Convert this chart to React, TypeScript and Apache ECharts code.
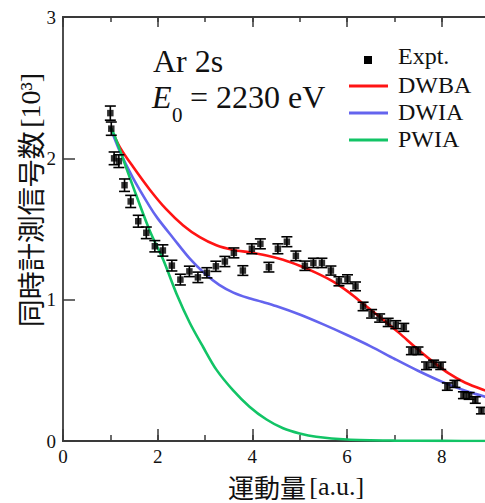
import React, { useEffect, useRef } from "react";
import * as echarts from "echarts";

// Experimental points: momentum [a.u.], counts [10^3], error
const exptX = [1.0, 1.02, 1.08, 1.18, 1.3, 1.43, 1.59, 1.76, 1.94, 2.11, 2.3, 2.48, 2.67, 2.85, 3.04, 3.23, 3.42, 3.61, 3.8, 3.99, 4.17, 4.35, 4.54, 4.73, 4.92, 5.11, 5.29, 5.47, 5.66, 5.83, 6.01, 6.18, 6.34, 6.52, 6.69, 6.87, 7.03, 7.2, 7.36, 7.5, 7.68, 7.83, 7.98, 8.12, 8.28, 8.46, 8.58, 8.71, 8.84];
const exptY = [2.32, 2.21, 2.0, 1.98, 1.81, 1.695, 1.555, 1.473, 1.378, 1.348, 1.241, 1.142, 1.2, 1.158, 1.19, 1.236, 1.27, 1.331, 1.206, 1.36, 1.395, 1.23, 1.36, 1.41, 1.31, 1.24, 1.26, 1.26, 1.206, 1.13, 1.145, 1.094, 0.952, 0.9, 0.87, 0.839, 0.823, 0.804, 0.638, 0.638, 0.532, 0.546, 0.532, 0.385, 0.404, 0.324, 0.319, 0.29, 0.215];
const exptErr = [0.05, 0.047, 0.045, 0.045, 0.044, 0.043, 0.042, 0.041, 0.04, 0.04, 0.038, 0.038, 0.037, 0.037, 0.036, 0.036, 0.036, 0.035, 0.034, 0.035, 0.035, 0.034, 0.035, 0.035, 0.034, 0.033, 0.033, 0.033, 0.032, 0.032, 0.031, 0.031, 0.03, 0.03, 0.029, 0.029, 0.028, 0.028, 0.027, 0.027, 0.027, 0.026, 0.026, 0.026, 0.025, 0.024, 0.024, 0.023, 0.023];

const dwba: [number, number][] = [[1.0, 2.22], [1.2, 2.08], [1.48, 1.94], [1.83, 1.78], [2.18, 1.64], [2.54, 1.525], [2.89, 1.442], [3.24, 1.385], [3.6, 1.352], [3.94, 1.335], [4.3, 1.312], [4.65, 1.282], [5.0, 1.24], [5.35, 1.19], [5.7, 1.13], [6.05, 1.05], [6.4, 0.955], [6.75, 0.862], [7.1, 0.765], [7.45, 0.662], [7.8, 0.565], [8.15, 0.478], [8.5, 0.412], [8.9, 0.36], [9.0, 0.352]];
const dwia: [number, number][] = [[1.0, 2.22], [1.2, 2.05], [1.48, 1.86], [1.83, 1.66], [2.0, 1.575], [2.33, 1.435], [2.68, 1.29], [3.0, 1.183], [3.3, 1.105], [3.6, 1.05], [3.9, 1.013], [4.2, 0.985], [4.5, 0.955], [5.0, 0.895], [5.5, 0.825], [6.0, 0.75], [6.5, 0.67], [7.0, 0.582], [7.5, 0.497], [8.0, 0.42], [8.5, 0.355], [8.9, 0.315], [9.0, 0.308]];
const pwia: [number, number][] = [[1.0, 2.22], [1.09, 2.16], [1.48, 1.8], [1.83, 1.49], [2.12, 1.28], [2.4, 1.04], [2.68, 0.835], [2.96, 0.665], [3.24, 0.505], [3.59, 0.36], [3.94, 0.243], [4.3, 0.152], [4.65, 0.09], [5.0, 0.053], [5.35, 0.03], [6.0, 0.011], [7.0, 0.003], [8.0, 0.001], [9.0, 0.0]];

const xTicks = [0, 2, 4, 6, 8];

const SERIF = "'Liberation Serif', 'Times New Roman', serif";
const CJK = "'Noto Sans CJK JP', 'Noto Sans CJK SC', sans-serif";
const AXIS_COLOR = "#3a3a3a";
const RED = "#ff1414";
const BLUE = "#6464ee";
const GREEN = "#12c466";

export default function App() {
  const ref = useRef<HTMLDivElement>(null);
  useEffect(() => {
    if (!ref.current) return;
    const chart = echarts.init(ref.current, null, { renderer: "svg" });
    const expt = exptX.map((x, i) => [x, exptY[i]]);
    const errs = exptX.map((x, i) => [x, exptY[i] - exptErr[i], exptY[i] + exptErr[i]]);
    const axisLine = { show: true, lineStyle: { color: AXIS_COLOR, width: 1.8 } };
    const baseX = {
      type: "value" as const,
      min: 0,
      max: 9,
      splitLine: { show: false },
      axisLine,
    };
    chart.setOption({
      animation: false,
      backgroundColor: "#ffffff",
      grid: { left: 63, top: 17, width: 426, height: 424, containLabel: false, outerBoundsMode: "none" },
      xAxis: [
        {
          ...baseX,
          position: "bottom",
          interval: 2,
          axisTick: { show: true, inside: true, length: 12, lineStyle: { color: AXIS_COLOR, width: 1.5 } },
          axisLabel: {
            show: true,
            margin: 6,
            color: "#111",
            fontFamily: SERIF,
            fontSize: 19,
            formatter: (v: number) => (xTicks.indexOf(v) >= 0 ? String(v) : ""),
          },
        },
        {
          ...baseX,
          position: "bottom",
          interval: 1,
          axisTick: { show: true, inside: true, length: 6, lineStyle: { color: AXIS_COLOR, width: 1.5 } },
          axisLabel: { show: false },
        },
        {
          ...baseX,
          position: "top",
          interval: 2,
          axisTick: { show: true, inside: true, length: 10, lineStyle: { color: AXIS_COLOR, width: 1.5 } },
          axisLabel: { show: false },
        },
        {
          ...baseX,
          position: "top",
          interval: 1,
          axisTick: { show: true, inside: true, length: 5, lineStyle: { color: AXIS_COLOR, width: 1.5 } },
          axisLabel: { show: false },
        },
      ],
      yAxis: [
        {
          type: "value",
          min: 0,
          max: 3,
          interval: 1,
          position: "left",
          splitLine: { show: false },
          axisLine,
          axisTick: { show: true, inside: true, length: 12, lineStyle: { color: AXIS_COLOR, width: 1.5 } },
          axisLabel: { show: true, margin: 7, color: "#111", fontFamily: SERIF, fontSize: 19 },
        },
      ],
      series: [
        {
          name: "DWBA",
          type: "line",
          data: dwba,
          smooth: 0.3,
          showSymbol: false,
          symbol: "none",
          lineStyle: { color: RED, width: 2.6 },
          z: 2,
        },
        {
          name: "DWIA",
          type: "line",
          data: dwia,
          smooth: 0.3,
          showSymbol: false,
          symbol: "none",
          lineStyle: { color: BLUE, width: 2.6 },
          z: 2,
        },
        {
          name: "PWIA",
          type: "line",
          data: pwia,
          smooth: 0.3,
          showSymbol: false,
          symbol: "none",
          lineStyle: { color: GREEN, width: 2.6 },
          z: 2,
        },
        {
          name: "Expt. error",
          type: "custom",
          data: errs,
          clip: true,
          z: 3,
          renderItem: (params: any, api: any) => {
            const x = api.value(0);
            const lo = api.coord([x, api.value(1)]);
            const hi = api.coord([x, api.value(2)]);
            const w = 5.5;
            const style = { stroke: "#000", lineWidth: 1.6 };
            return {
              type: "group",
              children: [
                { type: "line", shape: { x1: lo[0], y1: lo[1], x2: hi[0], y2: hi[1] }, style },
                { type: "line", shape: { x1: lo[0] - w, y1: lo[1], x2: lo[0] + w, y2: lo[1] }, style },
                { type: "line", shape: { x1: hi[0] - w, y1: hi[1], x2: hi[0] + w, y2: hi[1] }, style },
              ],
            };
          },
        },
        {
          name: "Expt.",
          type: "scatter",
          data: expt,
          symbol: "rect",
          symbolSize: 6.5,
          itemStyle: { color: "#000" },
          z: 4,
        },
      ],
      graphic: [
        {
          type: "text",
          left: 153,
          top: 45,
          style: { text: "Ar 2s", font: `32px ${SERIF}`, fill: "#111", lineHeight: 32 },
        },
        {
          type: "text",
          left: 152,
          top: 81,
          style: { text: "E", font: `italic 32px ${SERIF}`, fill: "#111", lineHeight: 32 },
        },
        {
          type: "text",
          left: 172,
          top: 104,
          style: { text: "0", font: `21px ${SERIF}`, fill: "#111", lineHeight: 21 },
        },
        {
          type: "text",
          left: 190,
          top: 81,
          style: { text: "= 2230 eV", font: `32px ${SERIF}`, fill: "#111", lineHeight: 32 },
        },
        // legend
        { type: "rect", shape: { x: 364, y: 56, width: 8, height: 8 }, style: { fill: "#000" } },
        { type: "text", x: 398, y: 56, style: { text: "Expt.", font: `24px ${SERIF}`, fill: "#111", verticalAlign: "middle" } },
        { type: "line", shape: { x1: 349, y1: 86, x2: 388, y2: 86 }, style: { stroke: RED, lineWidth: 3 } },
        { type: "text", x: 398, y: 85, style: { text: "DWBA", font: `24px ${SERIF}`, fill: "#111", verticalAlign: "middle" } },
        { type: "line", shape: { x1: 349, y1: 113, x2: 388, y2: 113 }, style: { stroke: BLUE, lineWidth: 3 } },
        { type: "text", x: 398, y: 112, style: { text: "DWIA", font: `24px ${SERIF}`, fill: "#111", verticalAlign: "middle" } },
        { type: "line", shape: { x1: 349, y1: 140, x2: 388, y2: 140 }, style: { stroke: GREEN, lineWidth: 3 } },
        { type: "text", x: 398, y: 139, style: { text: "PWIA", font: `24px ${SERIF}`, fill: "#111", verticalAlign: "middle" } },
        // axis titles
        {
          type: "text",
          x: 296,
          y: 486,
          style: {
            text: "{c|運動量} {s|[a.u.]}",
            align: "center",
            verticalAlign: "middle",
            fill: "#111",
            rich: {
              c: { fontFamily: CJK, fontSize: 26, lineHeight: 26, fill: "#111" },
              s: { fontFamily: SERIF, fontSize: 26, lineHeight: 26, fill: "#111" },
            },
          },
        },
        {
          type: "text",
          x: 30,
          y: 200,
          rotation: Math.PI / 2,
          style: {
            text: "{c|同時計測信号数} {s|[10³]}",
            align: "center",
            verticalAlign: "middle",
            fill: "#111",
            rich: {
              c: { fontFamily: CJK, fontSize: 28, lineHeight: 28, fill: "#111" },
              s: { fontFamily: SERIF, fontSize: 28, lineHeight: 28, fill: "#111" },
            },
          },
        },
      ],
    });
    return () => chart.dispose();
  }, []);
  return <div ref={ref} style={{ width: 485, height: 503, position: "absolute", left: 0, top: 0 }} />;
}
